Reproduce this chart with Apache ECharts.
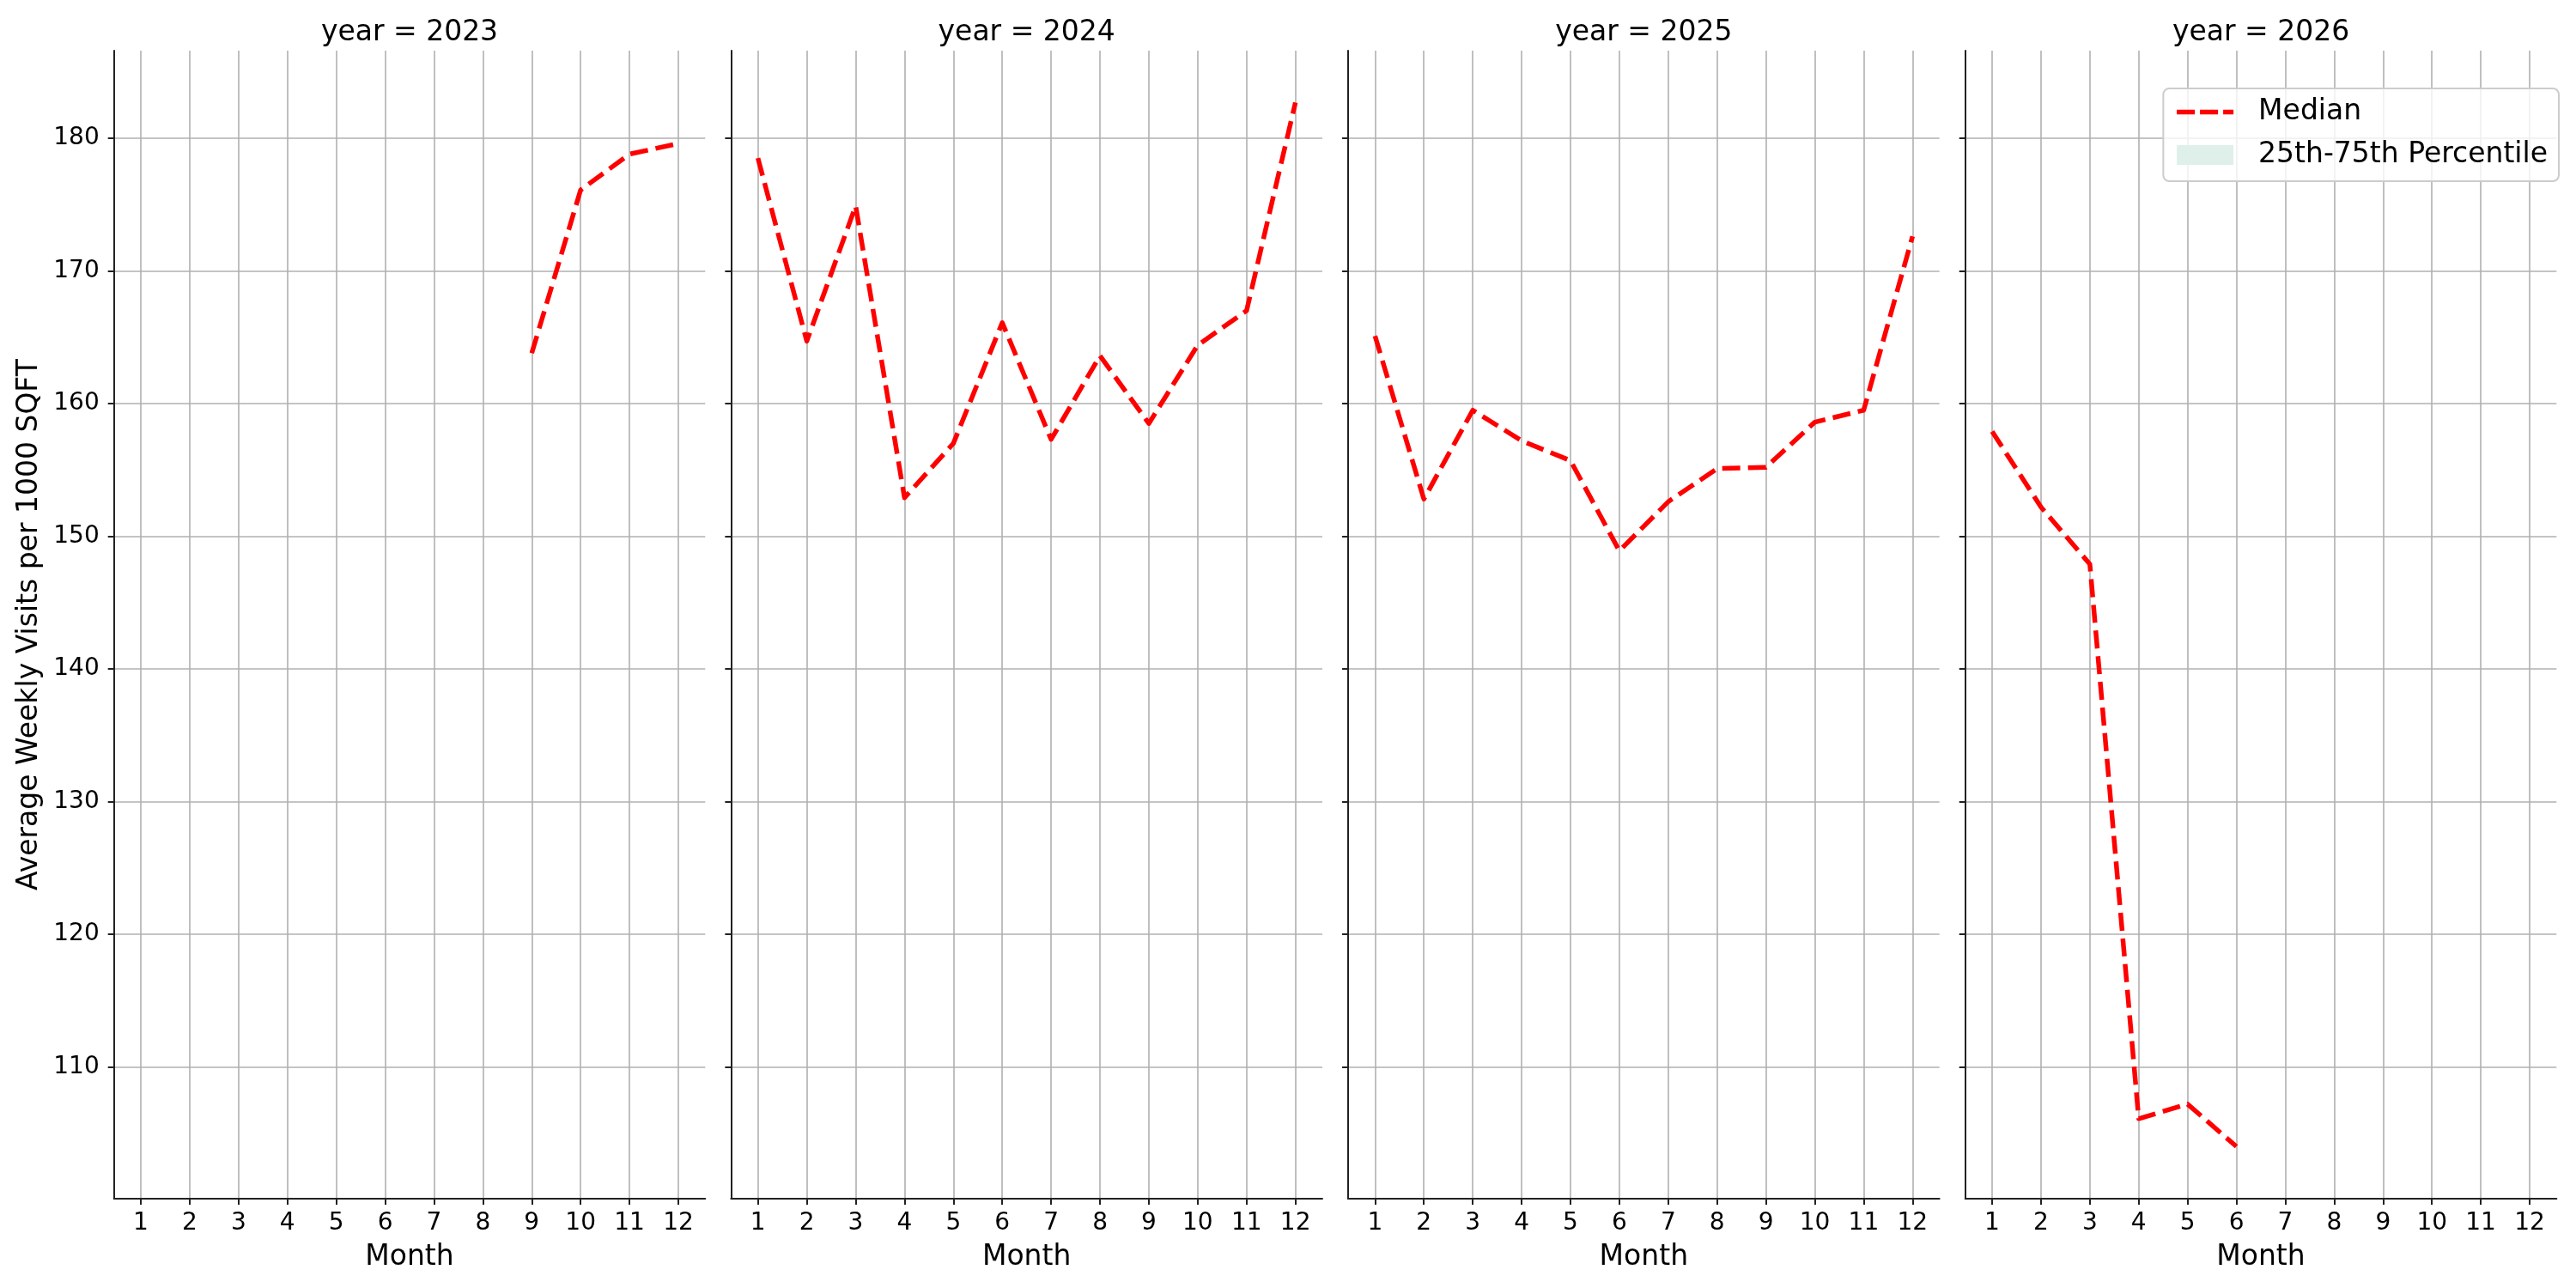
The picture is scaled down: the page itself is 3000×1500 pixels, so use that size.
<!DOCTYPE html>
<html>
<head>
<meta charset="utf-8">
<script src="https://cdn.jsdelivr.net/npm/echarts@6/dist/echarts.min.js"></script>
<style>
html, body { margin: 0; padding: 0; background: #fff; }
#chart { width: 3000px; height: 1500px; }
</style>
</head>
<body>
<div id="chart"></div>
<script>
// ---- data ----
const months = [1, 2, 3, 4, 5, 6, 7, 8, 9, 10, 11, 12];
const years = ['2023', '2024', '2025', '2026'];
const median2023 = [null, null, null, null, null, null, null, null, 163.8, 176.1, 178.8, 179.6];
const median2024 = [178.5, 164.7, 174.9, 152.9, 157.0, 166.1, 157.3, 163.6, 158.5, 164.4, 167.0, 182.7];
const median2025 = [165.1, 152.8, 159.5, 157.2, 155.7, 148.9, 152.6, 155.1, 155.2, 158.6, 159.5, 172.6];
const median2026 = [157.9, 152.2, 147.9, 106.1, 107.2, 104.0, null, null, null, null, null, null];
const yTicks = [110, 120, 130, 140, 150, 160, 170, 180];
const yLabel = 'Average Weekly Visits per 1000 SQFT';
const xLabel = 'Month';
const medianName = 'Median';
const bandName = '25th-75th Percentile';

const medians = [median2023, median2024, median2025, median2026];

// ---- layout ----
const FONT = 'DejaVu Sans';
const panelLeft0 = 132.7, panelStep = 718.67, panelW = 688.6;
const panelTop = 59, panelH = 1337;
const yMin = 100.07, yMax = 186.6;
const axisColor = '#222222';
const gridColor = '#b0b0b0';

const grids = [], xAxes = [], yAxes = [], series = [], titles = [];

years.forEach((yr, i) => {
  const left = panelLeft0 + i * panelStep;
  grids.push({ left: left, top: panelTop, width: panelW, height: panelH, containLabel: false });
  titles.push({
    text: 'year = ' + yr,
    left: left + panelW / 2,
    top: 22,
    padding: 0,
    textAlign: 'center',
    textStyle: { fontFamily: FONT, fontSize: 33, fontWeight: 'normal', color: '#000' }
  });
  xAxes.push({
    type: 'value', gridIndex: i, min: 0.45, max: 12.55,
    axisLine: { show: true, onZero: false, lineStyle: { color: axisColor, width: 2 } },
    axisTick: { show: true, customValues: months, length: 7, lineStyle: { color: axisColor, width: 2 } },
    axisLabel: { show: true, customValues: months, margin: 15, fontFamily: FONT, fontSize: 28, color: '#000' },
    splitLine: { show: true, lineStyle: { color: gridColor, width: 1.6 } },
    name: xLabel, nameLocation: 'middle', nameGap: 52,
    nameTextStyle: { fontFamily: FONT, fontSize: 33, color: '#000' }
  });
  const ya = {
    type: 'value', gridIndex: i, min: yMin, max: yMax,
    axisLine: { show: true, onZero: false, lineStyle: { color: axisColor, width: 2 } },
    axisTick: { show: true, customValues: yTicks, length: 7, lineStyle: { color: axisColor, width: 2 } },
    axisLabel: { show: i === 0, customValues: yTicks, margin: 17, fontFamily: FONT, fontSize: 28, color: '#000' },
    splitLine: { show: true, lineStyle: { color: gridColor, width: 1.6 } }
  };
  if (i === 0) {
    ya.name = yLabel;
    ya.nameLocation = 'middle';
    ya.nameGap = 82;
    ya.nameRotate = 90;
    ya.nameTextStyle = { fontFamily: FONT, fontSize: 33, color: '#000' };
  }
  yAxes.push(ya);

  const pts = [];
  months.forEach((m, k) => { if (medians[i][k] !== null) pts.push([m, medians[i][k]]); });
  series.push({
    type: 'line', name: medianName, xAxisIndex: i, yAxisIndex: i,
    data: pts, symbol: 'none', showSymbol: false, silent: true, animation: false,
    itemStyle: { color: '#ff0000' },
    lineStyle: { color: '#ff0000', width: 5.5, type: [21, 9], join: 'round', cap: 'butt' },
    z: 5
  });
});

series.push({
  type: 'line', name: bandName, xAxisIndex: 3, yAxisIndex: 3,
  data: [], symbol: 'none', showSymbol: false, animation: false,
  itemStyle: { color: '#dff0ea' },
  lineStyle: { width: 0, color: '#dff0ea' },
  areaStyle: { color: '#dff0ea' }
});

const option = {
  backgroundColor: '#ffffff',
  animation: false,
  title: titles,
  grid: grids,
  xAxis: xAxes,
  yAxis: yAxes,
  series: series,
  legend: {
    show: true,
    orient: 'vertical',
    right: 20,
    top: 103,
    padding: [11, 13, 14, 13],
    itemGap: 17,
    itemWidth: 66,
    itemHeight: 23,
    backgroundColor: 'rgba(255,255,255,0.8)',
    borderColor: '#cccccc',
    borderWidth: 2,
    borderRadius: 7,
    selectedMode: false,
    textStyle: { fontFamily: FONT, fontSize: 33, color: '#000', padding: [0, 0, 0, 24] },
    data: [
      { name: medianName, itemStyle: { opacity: 0 }, lineStyle: { color: '#ff0000', width: 5.5, type: [21, 6] } },
      { name: bandName, icon: 'rect', itemStyle: { color: '#dff0ea' } }
    ],
    z: 10
  }
};

const chart = echarts.init(document.getElementById('chart'), null, { renderer: 'canvas' });
chart.setOption(option);
</script>
</body>
</html>
